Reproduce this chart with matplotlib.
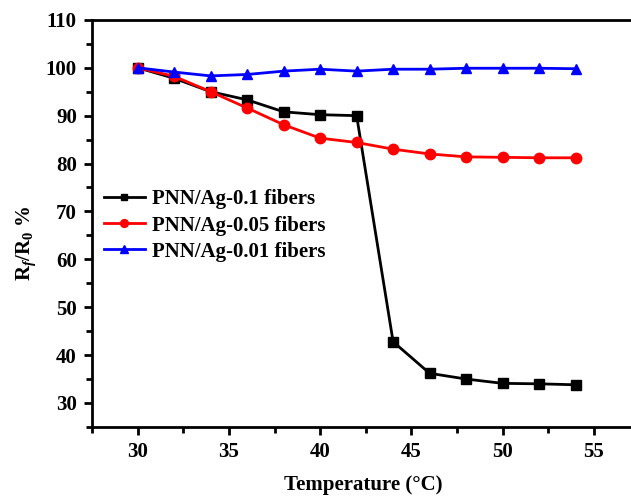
import matplotlib
matplotlib.use("Agg")
import matplotlib.pyplot as plt
from matplotlib.ticker import MultipleLocator

plt.rcParams['font.family'] = 'Liberation Serif'
plt.rcParams['font.weight'] = 'bold'
plt.rcParams['mathtext.fontset'] = 'custom'
plt.rcParams['mathtext.rm'] = 'Liberation Serif:bold'
plt.rcParams['mathtext.it'] = 'Liberation Serif:italic:bold'

temps = [30, 32, 34, 36, 38, 40, 42, 44, 46, 48, 50, 52, 54]
ag_01 = [100, 97.8, 95.0, 93.3, 90.8, 90.2, 90.0, 42.8, 36.2, 35.0, 34.1, 34.0, 33.8]
ag_005 = [100, 98.2, 95.0, 91.6, 88.1, 85.3, 84.4, 83.0, 82.0, 81.4, 81.3, 81.2, 81.2]
ag_001 = [100, 99.1, 98.3, 98.6, 99.3, 99.7, 99.3, 99.7, 99.7, 99.9, 99.9, 99.9, 99.8]

fig = plt.figure(figsize=(6.31, 4.97), dpi=100)
ax = fig.add_axes([0.146, 0.141, 0.86, 0.819])

ax.plot(temps, ag_01, color='black', marker='s', ms=6.5, lw=2, label="PNN/Ag-0.1 fibers")
ax.plot(temps, ag_005, color='red', marker='o', ms=7.5, lw=2, label="PNN/Ag-0.05 fibers")
ax.plot(temps, ag_001, color='blue', marker='^', ms=7, lw=2, label="PNN/Ag-0.01 fibers")

ax.set_xlim(27.5, 57.25)
ax.set_ylim(25, 110)
ax.xaxis.set_major_locator(MultipleLocator(5))
ax.xaxis.set_minor_locator(MultipleLocator(2.5))
ax.yaxis.set_major_locator(MultipleLocator(10))
ax.yaxis.set_minor_locator(MultipleLocator(5))
ax.tick_params(which='both', direction='out', width=2, labelsize=15, pad=5)
ax.tick_params(which='major', length=6)
ax.tick_params(which='minor', length=4)
for s in ax.spines.values():
    s.set_linewidth(2)

ax.set_xlabel("Temperature (\u00b0C)", fontsize=15, fontweight='bold', labelpad=9)
ax.set_ylabel(r"R$_{\mathit{f}}$/R$_0$ %", fontsize=15, fontweight='bold')
ax.yaxis.set_label_coords(-0.10, 0.452)

ax.legend(loc='upper left', bbox_to_anchor=(0.0, 0.612), frameon=False,
          fontsize=15, handlelength=2.0, handletextpad=0.3, labelspacing=0.3,
          borderaxespad=0.15, markerscale=0.75)

fig.savefig("out.png", dpi=100)
